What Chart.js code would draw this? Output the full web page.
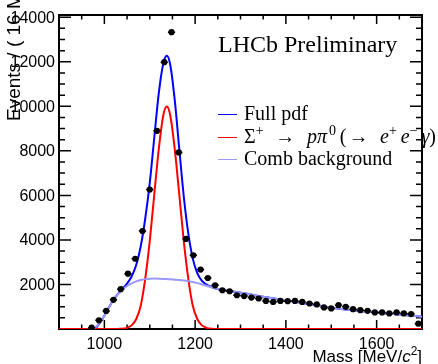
<!DOCTYPE html>
<html>
<head>
<meta charset="utf-8">
<script src="https://cdn.jsdelivr.net/npm/chart.js@4.4.1/dist/chart.umd.min.js"></script>
<style>
  html, body { margin: 0; padding: 0; background: #fff; }
  canvas { display: block; }
</style>
</head>
<body>
<canvas id="plot" width="438" height="364"></canvas>
<script>
// binned data (16 MeV bins)
const massBins = [972, 988, 1004, 1020, 1036, 1052, 1068, 1084, 1100, 1116, 1132, 1148, 1164, 1180,
  1196, 1212, 1228, 1244, 1260, 1276, 1292, 1308, 1324, 1340, 1356, 1372, 1388, 1404, 1420, 1436,
  1452, 1468, 1484, 1500, 1516, 1532, 1548, 1564, 1580, 1596, 1612, 1628, 1644, 1660, 1676, 1692];
const events = [60, 390, 810, 1310, 1790, 2485, 3155, 4400, 6260, 8900, 11980, 13330, 7930, 4045,
  3310, 2670, 2290, 1960, 1740, 1695, 1516, 1480, 1413, 1369, 1262, 1218, 1262, 1249, 1262, 1218,
  1146, 1102, 968, 923, 1070, 995, 892, 847, 816, 745, 745, 700, 745, 700, 669, 240];

// fit curves
const curveMass = [900, 960, 977, 990, 1000, 1010, 1020, 1030, 1040, 1050, 1060, 1070, 1080, 1090,
  1100, 1110, 1120, 1130, 1137.5, 1145, 1155, 1165, 1175, 1185, 1195, 1205, 1215, 1225, 1235, 1250,
  1275, 1300, 1350, 1400, 1450, 1500, 1550, 1600, 1650, 1700];
const fullPdf = [0, 0, 0, 280, 600, 980, 1300, 1575, 1810, 2040, 2360, 2860, 3700, 4950,
  6550, 8600, 10600, 11930, 12265, 11880, 10300, 8100, 5950, 4280, 3150, 2500, 2165, 1995, 1895, 1800,
  1710, 1630, 1450, 1290, 1120, 950, 830, 740, 650, 545];
const signalPdf = [0, 0, 0, 0, 0, 0, 0, 5, 15, 52, 162, 439, 1033, 2250,
  3950, 6050, 8100, 9610, 9990, 9610, 8100, 6050, 3950, 2250, 1033, 439, 162, 52, 15, 0,
  0, 0, 0, 0, 0, 0, 0, 0, 0, 0];
const combBkg = [null, null, 0, 280, 600, 980, 1300, 1560, 1770, 1930, 2050, 2140, 2200, 2240,
  2260, 2265, 2260, 2250, 2240, 2230, 2215, 2200, 2180, 2150, 2110, 2060, 2000, 1940, 1880, 1800,
  1710, 1630, 1450, 1290, 1120, 950, 830, 740, 650, 545];

const xMajor = [1000, 1200, 1400, 1600];
const yMajor = [2000, 4000, 6000, 8000, 10000, 12000, 14000];

const SANS = "'Liberation Sans', Arial, sans-serif";
const SERIF = "'Liberation Serif', 'Times New Roman', serif";

function pts(xs, ys) {
  return xs.map((x, i) => ({ x: x, y: ys[i] }));
}

function segFont(s, size, family) {
  return (s.it ? "italic " : "") + (s.sup ? size * 0.7 : size) + "px " + family;
}

// draws text made of pieces (italic / superscript); g = weight of the gap after a piece
function drawRich(ctx, segs, x, y, size, family, measureOnly, spreadTo) {
  let natural = 0;
  let gsum = 0;
  segs.forEach((s) => {
    ctx.font = segFont(s, size, family);
    natural += ctx.measureText(s.t).width;
    gsum += s.g || 0;
  });
  if (measureOnly) return natural;
  const k = spreadTo && gsum ? Math.max(0, (spreadTo - natural) / gsum) : 0;
  let cx = x;
  segs.forEach((s) => {
    ctx.font = segFont(s, size, family);
    ctx.fillText(s.t, cx, y + (s.sup ? -size * 0.42 : 0));
    cx += ctx.measureText(s.t).width + (s.g || 0) * k;
  });
  return cx - x;
}

const framePlugin = {
  id: "frame",
  beforeDatasetsDraw(chart) {
    const ctx = chart.ctx;
    const a = chart.chartArea;
    const xs = chart.scales.x;
    const ys = chart.scales.y;
    ctx.save();
    ctx.strokeStyle = "#000";
    ctx.lineWidth = 2;
    ctx.strokeRect(a.left, a.top, a.right - a.left, a.bottom - a.top);
    ctx.lineWidth = 1.5;
    ctx.beginPath();
    for (let m = 950; m < 1700; m += 50) {
      const px = xs.getPixelForValue(m);
      const len = xMajor.includes(m) ? 9 : 4.5;
      ctx.moveTo(px, a.bottom); ctx.lineTo(px, a.bottom - len);
      ctx.moveTo(px, a.top); ctx.lineTo(px, a.top + len);
    }
    for (let v = 500; v <= 14000; v += 500) {
      const py = ys.getPixelForValue(v);
      const len = yMajor.includes(v) ? 12 : 6;
      ctx.moveTo(a.left, py); ctx.lineTo(a.left + len, py);
      ctx.moveTo(a.right, py); ctx.lineTo(a.right - len, py);
    }
    ctx.stroke();
    ctx.restore();
  },
  afterDatasetsDraw(chart) {
    // horizontal error bars (bin width)
    const ctx = chart.ctx;
    const xs = chart.scales.x;
    const ys = chart.scales.y;
    ctx.save();
    ctx.strokeStyle = "#000";
    ctx.lineWidth = 1.5;
    ctx.beginPath();
    massBins.forEach((m, i) => {
      const py = ys.getPixelForValue(events[i]);
      ctx.moveTo(xs.getPixelForValue(m - 8), py);
      ctx.lineTo(xs.getPixelForValue(m + 8), py);
    });
    ctx.stroke();
    ctx.restore();
  },
  afterDraw(chart) {
    const ctx = chart.ctx;
    const a = chart.chartArea;
    const xs = chart.scales.x;
    const ys = chart.scales.y;
    ctx.save();
    ctx.fillStyle = "#000";

    // y title
    ctx.save();
    ctx.translate(20, 121);
    ctx.rotate(-Math.PI / 2);
    ctx.textBaseline = "alphabetic";
    drawRich(ctx, [{ t: "Events / ( 16 MeV/" }, { t: "c", it: true }, { t: "2", sup: true }, { t: " )" }],
      0, 0, 19, SANS);
    ctx.restore();

    // tick labels
    ctx.font = "16px " + SANS;
    ctx.textAlign = "right";
    ctx.textBaseline = "middle";
    yMajor.forEach((v) => ctx.fillText(String(v), 55, ys.getPixelForValue(v) + 1));
    ctx.textAlign = "center";
    ctx.textBaseline = "alphabetic";
    xMajor.forEach((m) => ctx.fillText(String(m), xs.getPixelForValue(m), 349));

    // x title
    const xt = [{ t: "Mass [MeV/" }, { t: "c", it: true }, { t: "2", sup: true }, { t: "]" }];
    ctx.textAlign = "left";
    const w = drawRich(ctx, xt, 0, 0, 17, SANS, true);
    drawRich(ctx, xt, a.right - w, 362, 17, SANS);

    // LHCb label
    ctx.font = "24px " + SERIF;
    ctx.fillText("LHCb Preliminary", 218, 52);

    // legend
    const rows = [
      { color: "#0000ff", y: 114, segs: [{ t: "Full pdf" }] },
      { color: "#ff0000", y: 137, spread: 192, segs: [
        { t: "Σ" }, { t: "+", sup: true, g: 3 }, { t: "→", g: 3 },
        { t: "p", it: true }, { t: "π", it: true, g: 0.5 }, { t: "0", sup: true, g: 1 },
        { t: "(", g: 0.5 }, { t: "→", g: 3 }, { t: "e", it: true }, { t: "+", sup: true, g: 1 },
        { t: "e", it: true }, { t: "−", sup: true, g: 1 }, { t: "γ", it: true }, { t: ")" }] },
      { color: "#9999ff", y: 159, segs: [{ t: "Comb background" }] },
    ];
    rows.forEach((r) => {
      ctx.strokeStyle = r.color;
      ctx.lineWidth = 1;
      ctx.beginPath();
      ctx.moveTo(218, r.y + 0.5);
      ctx.lineTo(237, r.y + 0.5);
      ctx.stroke();
      drawRich(ctx, r.segs, 244, r.y + 6, 20, SERIF, false, r.spread);
    });
    ctx.restore();
  },
};

const chart = new Chart(document.getElementById("plot"), {
  type: "scatter",
  data: {
    datasets: [
      {
        label: "Data",
        data: pts(massBins, events),
        backgroundColor: "#000",
        borderColor: "#000",
        pointRadius: 3.1,
        pointBorderWidth: 0,
        order: 0,
      },
      {
        type: "line",
        label: "Comb background",
        data: pts(curveMass, combBkg),
        borderColor: "#9999ff",
        borderWidth: 2,
        pointRadius: 0,
        spanGaps: false,
        cubicInterpolationMode: "monotone",
        order: 1,
      },
      {
        type: "line",
        label: "Signal",
        data: pts(curveMass, signalPdf),
        borderColor: "#ff0000",
        borderWidth: 2,
        pointRadius: 0,
        cubicInterpolationMode: "monotone",
        order: 2,
      },
      {
        type: "line",
        label: "Full pdf",
        data: pts(curveMass, fullPdf),
        borderColor: "#0000ff",
        borderWidth: 2,
        pointRadius: 0,
        cubicInterpolationMode: "monotone",
        order: 3,
      },
    ],
  },
  options: {
    responsive: false,
    animation: false,
    devicePixelRatio: 1,
    layout: { padding: { left: 59, right: 16, top: 15, bottom: 35 } },
    plugins: { legend: { display: false }, tooltip: { enabled: false } },
    scales: {
      x: { type: "linear", min: 900, max: 1700, display: false },
      y: { type: "linear", min: 0, max: 14100, display: false },
    },
  },
  plugins: [framePlugin],
});
</script>
</body>
</html>
